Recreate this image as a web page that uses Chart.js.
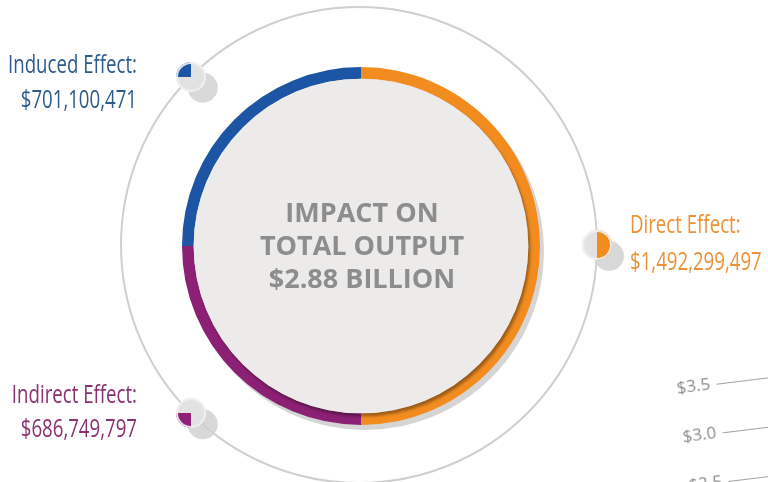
<!DOCTYPE html>
<html>
<head>
<meta charset="utf-8">
<script src="https://cdn.jsdelivr.net/npm/chart.js@4.4.1/dist/chart.umd.min.js"></script>
<style>
  html, body { margin: 0; padding: 0; background: #fff; }
  #wrap { position: relative; width: 768px; height: 482px; overflow: hidden; }
  #main { position: absolute; left: 0; top: 0; }
  .mini { position: absolute; }
  #axisPart { position: absolute; left: 676px; top: 368px; transform-origin: 41px 61px; transform: rotate(-7deg); }
</style>
</head>
<body>
<div id="wrap">
  <canvas id="main" width="768" height="482"></canvas>
  <canvas id="axisPart" width="130" height="180"></canvas>
  <canvas id="mini0" class="mini" width="32" height="32"></canvas>
  <canvas id="mini1" class="mini" width="32" height="32"></canvas>
  <canvas id="mini2" class="mini" width="32" height="32"></canvas>
</div>
<script>
// order goes clockwise from 12 o'clock
const effectNames = ['Direct Effect:', 'Indirect Effect:', 'Induced Effect:'];
const effectValues = [1492299497, 686749797, 701100471];
const sliceShares = [50, 25, 25]; // slice sizes as drawn in the graphic
const sliceColors = ['#f28c1f', '#8b2074', '#1b55a3'];
const labelColors = ['#ec9138', '#8a3170', '#2c5b8d'];
const centerLines = ['IMPACT ON', 'TOTAL OUTPUT', '$2.88 BILLION'];
const axisTicks = [2.0, 2.5, 3.0, 3.5];

const ORBIT = 238;
const labelFont = '25px "Open Sans", sans-serif';

// where each label sits: [x, first baseline, second baseline, align]
const labelPos = [
  [630, 233, 270, 'left'],
  [137, 403, 437, 'right'],
  [137, 73, 108, 'right'],
];

const fmt = v => '$' + v.toLocaleString('en-US');

const orbitPoint = (chart, i) => {
  const a = chart.getDatasetMeta(0).data[i];
  const m = (a.startAngle + a.endAngle) / 2;
  return { x: a.x - 2 + Math.cos(m) * ORBIT, y: a.y - 1 + Math.sin(m) * ORBIT };
};

// squeezed text, the original uses a condensed face
function narrowText(ctx, text, x, y, k) {
  ctx.save();
  ctx.translate(x, y);
  ctx.scale(k, 1);
  ctx.fillText(text, 0, 0);
  ctx.restore();
}

const backdrop = {
  id: 'backdrop',
  beforeDatasetsDraw(chart) {
    const ctx = chart.ctx;
    const arc = chart.getDatasetMeta(0).data[0];
    ctx.save();
    // shadows behind the small pies
    sliceShares.forEach((_, i) => {
      const p = orbitPoint(chart, i);
      ctx.beginPath();
      ctx.arc(p.x + 12, p.y + 11, 15, 0, Math.PI * 2);
      ctx.fillStyle = '#d8d8d8';
      ctx.fill();
    });
    // thin orbit
    ctx.beginPath();
    ctx.arc(arc.x - 2, arc.y - 1, ORBIT, 0, Math.PI * 2);
    ctx.strokeStyle = '#cfcfcf';
    ctx.lineWidth = 2;
    ctx.stroke();
    // ring shadow
    ctx.beginPath();
    ctx.arc(arc.x + 4, arc.y + 5, arc.outerRadius, 0, Math.PI * 2);
    ctx.fillStyle = '#d5d5d5';
    ctx.fill();
    ctx.restore();
  },
  afterDatasetsDraw(chart) {
    const ctx = chart.ctx;
    const arc = chart.getDatasetMeta(0).data[0];
    ctx.save();
    ctx.beginPath();
    ctx.arc(arc.x, arc.y, arc.innerRadius, 0, Math.PI * 2);
    ctx.shadowColor = 'rgba(0,0,0,0.35)';
    ctx.shadowBlur = 3;
    ctx.shadowOffsetX = 2;
    ctx.shadowOffsetY = 3;
    ctx.fillStyle = '#ecebe9';
    ctx.fill();
    ctx.shadowColor = 'transparent';

    ctx.fillStyle = '#8d8d8d';
    ctx.font = 'bold 27px "Open Sans", sans-serif';
    ctx.textAlign = 'center';
    ctx.textBaseline = 'alphabetic';
    centerLines.forEach((t, i) => ctx.fillText(t, arc.x + 1, 222 + i * 33));

    // effect labels
    ctx.font = labelFont;
    const k = 129 / ctx.measureText(effectNames[2]).width;
    effectNames.forEach((name, i) => {
      const [x, y1, y2, align] = labelPos[i];
      ctx.textAlign = align;
      ctx.fillStyle = labelColors[i];
      narrowText(ctx, name, x, y1, k);
      narrowText(ctx, fmt(effectValues[i]), x, y2, k);
    });
    ctx.restore();
  }
};

const mainChart = new Chart(document.getElementById('main'), {
  type: 'doughnut',
  data: {
    labels: effectNames,
    datasets: [{
      data: sliceShares,
      backgroundColor: sliceColors,
      borderWidth: 0,
    }]
  },
  options: {
    responsive: false,
    animation: false,
    cutout: '93.5%',
    layout: { padding: { left: 182, right: 228, top: 67, bottom: 57 } },
    plugins: {
      legend: { display: false },
      tooltip: { enabled: false },
    },
  },
  plugins: [backdrop],
});

// small pies that sit on the orbit, one per effect
const rim = {
  id: 'rim',
  afterDatasetsDraw(chart) {
    const a = chart.getDatasetMeta(0).data[0];
    const ctx = chart.ctx;
    ctx.save();
    ctx.beginPath();
    ctx.arc(a.x, a.y, a.outerRadius - 1, 0, Math.PI * 2);
    ctx.strokeStyle = 'rgba(242,242,242,0.9)';
    ctx.lineWidth = 2;
    ctx.stroke();
    ctx.restore();
  }
};

sliceShares.forEach((_, i) => {
  const cv = document.getElementById('mini' + i);
  const p = orbitPoint(mainChart, i);
  cv.style.left = (p.x - 16) + 'px';
  cv.style.top = (p.y - 16) + 'px';
  new Chart(cv, {
    type: 'pie',
    data: {
      labels: effectNames,
      datasets: [{
        data: sliceShares,
        backgroundColor: sliceColors.map((c, j) => j === i ? c : '#e2e2e2'),
        borderWidth: 0,
      }]
    },
    options: {
      responsive: false,
      animation: false,
      layout: { padding: 1 },
      plugins: { legend: { display: false }, tooltip: { enabled: false } },
    },
    plugins: [rim],
  });
});

// a piece of the next chart's axis peeking in at the bottom right
new Chart(document.getElementById('axisPart'), {
  type: 'line',
  data: { labels: ['', ''], datasets: [] },
  options: {
    responsive: false,
    animation: false,
    plugins: { legend: { display: false }, tooltip: { enabled: false } },
    scales: {
      x: { display: false },
      y: {
        min: axisTicks[0],
        max: axisTicks[axisTicks.length - 1],
        afterBuildTicks: axis => { axis.ticks = axisTicks.map(v => ({ value: v })); },
        ticks: {
          color: '#8a8a8a',
          padding: 6,
          font: { family: 'Open Sans', size: 17 },
          callback: v => '$' + v.toFixed(1),
        },
        grid: { color: '#a0a0a0', lineWidth: 1, drawTicks: false },
        border: { display: false },
      }
    }
  }
});
</script>
</body>
</html>
